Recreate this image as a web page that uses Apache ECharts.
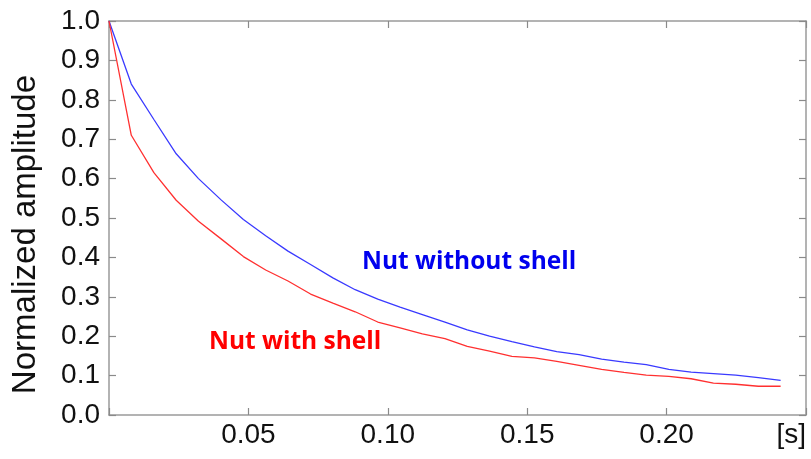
<!DOCTYPE html>
<html>
<head>
<meta charset="utf-8">
<script src="https://cdn.jsdelivr.net/npm/echarts@6/dist/echarts.min.js"></script>
<style>html,body{margin:0;padding:0;background:#fff}#c{width:811px;height:459px}</style>
</head>
<body>
<div id="c"></div>
<script>
const times = [0, 0.0080, 0.0161, 0.0241, 0.0321, 0.0402, 0.0482, 0.0562, 0.0642, 0.0723, 0.0803, 0.0883, 0.0964, 0.1044, 0.1124, 0.1205, 0.1285, 0.1365, 0.1445, 0.1526, 0.1606, 0.1686, 0.1767, 0.1847, 0.1927, 0.2008, 0.2088, 0.2168, 0.2248, 0.2329, 0.2409];
const withoutShell = [1.0, 0.84, 0.75, 0.663, 0.60, 0.546, 0.496, 0.455, 0.416, 0.382, 0.348, 0.318, 0.294, 0.274, 0.255, 0.236, 0.216, 0.200, 0.186, 0.173, 0.161, 0.153, 0.142, 0.134, 0.128, 0.116, 0.109, 0.105, 0.101, 0.095, 0.088];
const withShell = [1.0, 0.71, 0.615, 0.545, 0.492, 0.447, 0.402, 0.368, 0.340, 0.307, 0.284, 0.262, 0.236, 0.221, 0.206, 0.194, 0.174, 0.162, 0.149, 0.145, 0.136, 0.126, 0.116, 0.108, 0.101, 0.098, 0.092, 0.081, 0.078, 0.073, 0.073];
const xTickLabels = ['', '0.05', '0.10', '0.15', '0.20', '[s]'];
const yLabel = 'Normalized amplitude';
const labelWithout = 'Nut without shell';
const labelWith = 'Nut with shell';

const chart = echarts.init(document.getElementById('c'));
const frame = {show: true, onZero: false, lineStyle: {color: '#9a9a9a', width: 1.5}};
const tick = {show: true, inside: true, length: 7, lineStyle: {color: '#8a8a8a', width: 1.2}};
const font = 'Liberation Sans, Arial, sans-serif';
chart.setOption({
  animation: false,
  backgroundColor: '#fff',
  grid: {left: 109, right: 5, top: 21, bottom: 44, containLabel: false},
  xAxis: [
    {type: 'value', min: 0, max: 0.25, interval: 0.05, position: 'bottom',
     axisLine: frame, axisTick: tick, splitLine: {show: false},
     axisLabel: {margin: 6, fontSize: 28, color: '#111', fontFamily: font, alignMaxLabel: 'right',
       formatter: (v) => xTickLabels[Math.round(v / 0.05)]}},
    {type: 'value', min: 0, max: 0.25, interval: 0.05, position: 'top',
     axisLine: frame, axisTick: tick, splitLine: {show: false}, axisLabel: {show: false}}
  ],
  yAxis: [
    {type: 'value', min: 0, max: 1, interval: 0.1, position: 'left',
     axisLine: frame, axisTick: tick, splitLine: {show: false},
     axisLabel: {margin: 9, fontSize: 28, color: '#111', fontFamily: font,
       formatter: (v) => v.toFixed(1)}},
    {type: 'value', min: 0, max: 1, interval: 0.1, position: 'right',
     axisLine: frame, axisTick: tick, splitLine: {show: false}, axisLabel: {show: false}}
  ],
  series: [
    {type: 'line', name: labelWithout, showSymbol: false, symbol: 'none',
     data: times.map((t, i) => [t, withoutShell[i]]),
     lineStyle: {color: '#3a3aff', width: 1.3}},
    {type: 'line', name: labelWith, showSymbol: false, symbol: 'none',
     data: times.map((t, i) => [t, withShell[i]]),
     lineStyle: {color: '#ff3030', width: 1.3}}
  ],
  graphic: [
    {type: 'text', left: 9, top: 75, rotation: Math.PI / 2,
     style: {text: yLabel, fontSize: 33, fill: '#111', fontFamily: font}},
    {type: 'text', left: 362, top: 250,
     style: {text: labelWithout, fontSize: 24.5, fontWeight: 'bold', fill: '#0000ee', fontFamily: 'Open Sans, sans-serif'}},
    {type: 'text', left: 209, top: 330,
     style: {text: labelWith, fontSize: 24.5, fontWeight: 'bold', fill: '#ff0000', fontFamily: 'Open Sans, sans-serif'}}
  ]
});
</script>
</body>
</html>
